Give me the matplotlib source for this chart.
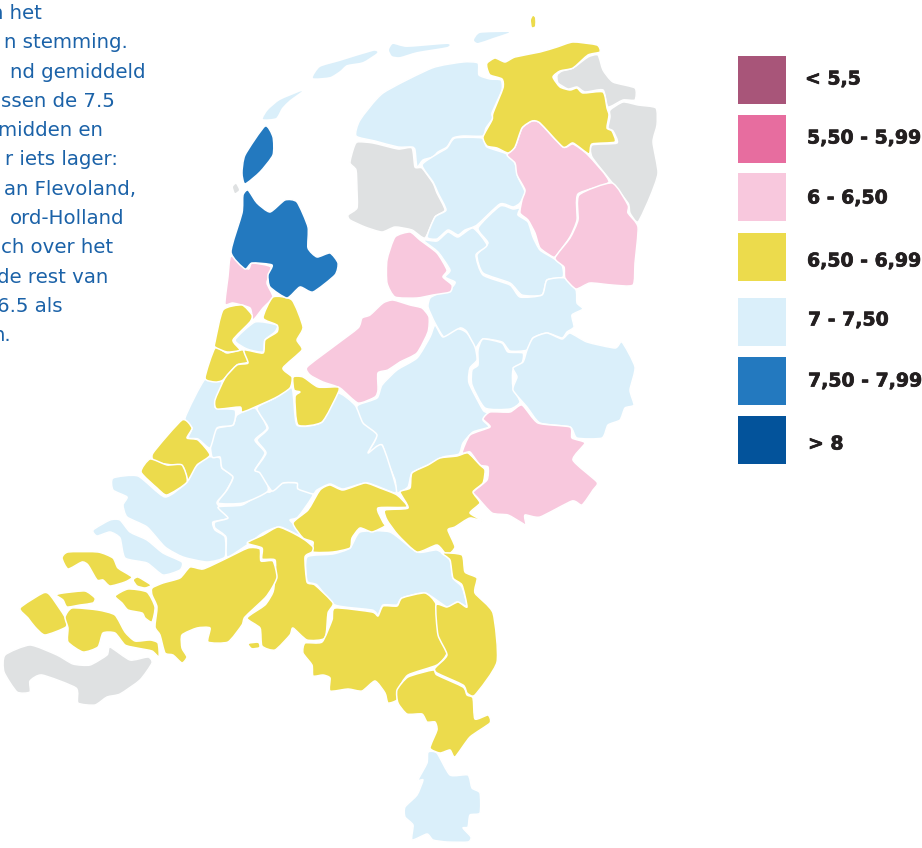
import matplotlib
matplotlib.use('Agg')
from matplotlib import pyplot as plt
from matplotlib.path import Path
from matplotlib.patches import PathPatch, Rectangle
import matplotlib.patheffects as pe

# legend
legend_labels = ['< 5,5', '5,50 - 5,99', '6 - 6,50', '6,50 - 6,99', '7 - 7,50', '7,50 - 7,99', '> 8']
legend_colors = ['#a85579', '#e76d9f', '#f8c8dd', '#ecdb4c', '#daeffa', '#2379bf', '#03539b']
GRAY = '#dfe1e2'

# what is left of the text block, it is cut off by the left edge
intro_lines = ['n het', 'n stemming.', 'nd gemiddeld', 'ssen de 7.5', 'midden en', 'r iets lager:',
               'an Flevoland,', 'ord-Holland', 'ch over het', 'de rest van', '6.5 als', 'n.']

# region outlines
friesland = [(356,136),(360,120),(383,93),(432,68),(463,62),(478,63),(479,75),(490,79),(501,80),(502,90),(492,113),(493,118),(486,128),(483,136),(463,136),(453,138),(447,147),(438,152),(433,157),(423,160),(417,167),(415,150),(412,147),(398,147),(375,141)]
fr_mid = [(422,165),(437,154),(447,148),(455,138),(482,138),(487,147),(507,154),(515,163),(518,177),(525,192),(520,203),(513,207),(500,204),(477,225),(465,230),(458,235),(448,230),(437,239),(427,237),(435,217),(446,210),(438,193),(433,182)]
drenthe_w = [(478,228),(488,243),(477,255),(483,273),(510,283),(522,295),(542,295),(547,280),(563,277),(562,265),(553,258),(540,250),(533,237),(528,222),(518,215),(520,208),(513,209),(500,206)]
overijssel = [(423,240),(437,241),(448,232),(458,237),(473,228),(487,245),(476,255),(483,275),(510,285),(520,297),(542,295),(547,280),(565,278),(576,290),(577,303),(583,309),(572,315),(574,327),(567,332),(562,338),(547,333),(533,338),(527,350),(510,351),(502,342),(483,339),(475,348),(467,332),(460,328),(445,338),(435,323),(428,307),(430,298),(437,294),(452,287),(455,282),(445,277),(450,270),(438,252)]
veluwe = [(358,405),(377,398),(382,385),(397,370),(417,358),(430,337),(435,325),(443,337),(458,329),(467,333),(475,347),(477,360),(470,368),(469,383),(483,410),(488,413),(483,420),(489,427),(473,432),(463,443),(459,454),(443,457),(428,465),(412,473),(408,487),(397,493),(395,480),(388,463),(382,445),(375,453),(368,453),(376,437),(363,425),(357,412)]
ijssel = [(478,350),(483,339),(502,343),(508,352),(523,353),(522,363),(513,370),(513,387),(520,402),(510,409),(485,408),(472,385),(472,370),(478,365)]
twente = [(527,350),(533,338),(547,333),(562,339),(570,333),(587,342),(615,348),(622,342),(635,367),(630,390),(634,405),(625,408),(620,420),(608,425),(602,438),(577,438),(570,427),(540,423),(527,407),(513,390),(517,377),(513,368),(523,362)]
goeree = [(93,530),(110,520),(120,520),(130,532),(147,540),(163,553),(182,562),(180,570),(163,575),(147,563),(125,558),(120,538),(110,532),(97,536)]
rijnmond = [(113,478),(138,476),(165,497),(187,482),(195,467),(208,457),(220,458),(222,468),(233,477),(225,493),(217,503),(228,518),(213,522),(215,530),(225,537),(225,557),(207,562),(183,557),(165,547),(147,527),(127,517),(123,505),(127,497),(113,490)]
waard = [(218,507),(242,505),(263,492),(270,492),(283,483),(297,483),(302,490),(313,495),(298,517),(290,520),(297,527),(303,537),(280,527),(263,533),(247,545),(227,557),(226,537),(215,528),(215,522),(228,518)]
midden_holland = [(212,457),(210,437),(218,428),(233,425),(237,415),(255,408),(267,428),(255,440),(265,453),(255,470),(263,473),(268,491),(243,503),(218,503),(227,490),(233,477),(222,468),(220,457)]
utrecht = [(257,408),(275,398),(292,388),(297,425),(322,422),(337,393),(355,405),(363,423),(377,435),(368,453),(382,445),(395,483),(395,493),(367,483),(343,489),(330,484),(317,490),(313,494),(298,489),(297,483),(283,483),(272,491),(260,473),(255,470),(266,453),(257,440),(268,428)]
delft = [(205,379),(222,382),(215,407),(235,410),(233,425),(217,428),(210,448),(198,439),(188,438),(192,428),(185,418)]
lake = [(235,340),(255,322),(277,325),(275,332),(265,340),(263,352),(247,349)]
kempen = [(307,557),(333,554),(350,548),(360,532),(390,532),(417,552),(437,550),(450,560),(453,578),(462,587),(467,606),(457,602),(447,607),(425,593),(402,598),(397,605),(383,605),(378,615),(372,610),(335,605),(317,585),(307,581)]
zuid_limburg = [(428,752),(437,753),(450,775),(468,775),(472,788),(480,793),(480,813),(470,815),(468,827),(463,828),(471,837),(468,842),(447,842),(433,840),(427,834),(412,840),(413,825),(405,817),(405,807),(417,795),(423,780),(418,780),(427,763)]
vlieland = [(263,119),(268,110),(280,100),(302,91),(290,100),(282,108),(276,118)]
terschelling = [(313,78),(320,67),(340,61),(373,51),(377,53),(363,62),(347,65),(340,71),(330,77)]
ameland = [(389,50),(393,44),(407,47),(447,44),(447,47),(417,52),(400,57),(392,56)]
schier = [(474,40),(480,33),(507,32),(508,33),(493,38),(478,43)]
light_regions = [friesland, fr_mid, drenthe_w, overijssel, veluwe, ijssel, twente, goeree, rijnmond, waard,
                 midden_holland, utrecht, delft, lake, kempen, zuid_limburg]
light_islands = [vlieland, terschelling, ameland, schier]

groningen = [(487,63),(495,58),(505,62),(515,57),(540,52),(557,47),(573,42),(597,45),(600,52),(588,55),(573,68),(560,71),(553,77),(560,87),(570,90),(577,88),(583,93),(603,92),(607,108),(609,115),(607,128),(612,131),(615,142),(592,144),(589,154),(573,143),(563,147),(540,123),(532,121),(522,128),(515,147),(508,153),(497,148),(487,146),(483,137),(492,120),(493,113),(503,88),(502,79),(490,75),(487,68)]
rottum = [(531,20),(533,16),(535,18),(535,26),(532,27)]
arnhem = [(385,510),(408,508),(400,492),(410,488),(412,473),(428,465),(440,458),(457,456),(468,453),(480,465),(485,470),(483,483),(473,492),(480,503),(470,513),(485,522),(470,518),(455,527),(448,530),(455,547),(447,555),(437,545),(417,552),(398,535),(387,520)]
rivieren = [(293,523),(308,510),(320,490),(330,485),(343,490),(365,483),(380,488),(397,495),(407,507),(378,508),(383,522),(385,526),(372,532),(360,528),(352,538),(350,548),(333,552),(313,552),(313,542),(303,538)]
den_bosch = [(247,543),(263,535),(278,527),(293,533),(305,540),(313,547),(312,552),(305,557),(307,582),(315,585),(333,603),(328,613),(325,638),(307,640),(293,628),(290,635),(275,650),(262,646),(260,628),(247,618),(265,605),(273,592),(275,577),(275,560),(262,559),(262,548)]
west_brabant = [(152,588),(163,583),(180,578),(190,567),(203,569),(223,560),(248,548),(260,549),(261,561),(273,561),(277,577),(272,588),(265,598),(245,617),(242,625),(228,642),(208,642),(210,628),(197,628),(182,635),(182,648),(187,657),(182,663),(173,655),(165,653),(160,635),(155,627),(157,607),(152,595)]
dot_brabant = [(249,644),(258,643),(259,647),(252,648)]
schouwen = [(62,558),(68,552),(98,552),(113,558),(118,568),(132,577),(125,582),(110,586),(103,580),(97,580),(88,565),(82,562),(68,569)]
st_phil = [(133,580),(138,577),(151,585),(145,588),(137,586)]
walcheren = [(20,608),(43,593),(50,595),(65,617),(66,627),(45,635),(35,627),(28,618)]
nbeveland = [(56,595),(63,593),(85,591),(95,598),(93,603),(80,605),(67,607),(63,600)]
tholen = [(115,596),(128,589),(147,592),(155,607),(152,622),(145,618),(142,613),(128,610),(122,603)]
zbeveland = [(65,617),(72,608),(98,610),(115,615),(125,632),(135,641),(150,640),(158,643),(159,657),(152,651),(137,648),(125,645),(115,633),(103,633),(98,647),(83,652),(68,642),(68,628)]
zeist = [(293,377),(303,377),(318,387),(338,387),(338,393),(322,422),(298,425),(295,397),(300,392),(294,390)]
haaglanden = [(153,453),(182,420),(192,428),(187,438),(198,440),(210,455),(197,465),(188,480),(183,467),(172,465),(155,462)]
westland = [(141,472),(150,459),(167,465),(182,465),(187,482),(167,495),(157,488)]
leiden = [(205,378),(215,348),(227,353),(243,350),(248,362),(237,365),(223,380),(215,382)]
kennemer = [(215,342),(223,310),(242,305),(252,315),(250,322),(233,340),(240,350),(227,352),(215,347)]
amsterdam = [(263,318),(273,297),(292,300),(303,327),(297,340),(302,350),(283,368),(292,377),(290,388),(275,398),(243,412),(240,407),(217,409),(215,400),(225,378),(237,365),(248,363),(244,350),(263,353),(265,340),(277,332),(277,325)]
eindhoven = [(335,608),(372,612),(378,616),(383,606),(397,606),(402,598),(425,593),(436,604),(440,635),(447,653),(437,665),(408,675),(398,690),(397,700),(388,703),(385,693),(375,681),(362,691),(348,689),(330,691),(330,678),(323,675),(313,676),(312,665),(303,653),(305,643),(322,642),(332,620)]
peel = [(442,553),(462,555),(465,572),(477,578),(475,593),(493,613),(497,662),(475,695),(467,693),(463,685),(437,673),(435,668),(447,655),(438,635),(436,605),(447,607),(458,602),(467,607),(462,585),(453,578),(450,560)]
limburg = [(398,703),(397,690),(408,677),(433,670),(437,675),(463,687),(467,695),(473,698),(475,719),(488,715),(490,723),(470,737),(455,757),(450,750),(440,753),(430,748),(437,730),(435,722),(427,722),(422,714),(407,714)]
yellow_regions = [groningen, arnhem, rivieren, den_bosch, west_brabant, schouwen, st_phil, walcheren,
                  nbeveland, tholen, zbeveland, zeist, haaglanden, westland, leiden, kennemer, amsterdam, eindhoven, peel, limburg]
yellow_islands = [rottum, dot_brabant]

drenthe_pink = [(507,155),(515,147),(522,128),(532,121),(540,123),(563,147),(573,144),(588,155),(609,182),(578,194),(577,220),(570,237),(557,255),(553,257),(540,248),(535,233),(528,220),(520,213),(522,200),(525,190),(517,175),(515,163)]
drenthe_se = [(579,195),(612,183),(628,205),(628,213),(638,227),(635,263),(633,285),(612,285),(590,283),(576,289),(565,278),(564,267),(555,258),(570,238),(578,220)]
noordoostpolder = [(387,260),(395,237),(410,232),(420,240),(437,253),(447,270),(443,277),(452,285),(450,292),(433,295),(417,298),(395,297),(387,283)]
flevoland = [(307,367),(333,347),(358,328),(362,318),(370,315),(383,303),(393,300),(410,305),(422,308),(429,317),(428,332),(417,353),(400,362),(388,370),(378,373),(378,390),(375,397),(358,403),(340,388),(323,382),(310,375)]
achterhoek = [(462,453),(470,435),(490,427),(483,419),(490,412),(510,412),(522,405),(538,423),(570,427),(572,438),(585,443),(573,460),(597,482),(593,490),(582,505),(572,501),(540,517),(525,515),(526,525),(522,523),(508,515),(492,513),(477,497),(473,492),(487,480),(488,467),(480,465),(470,452)]
ijmond = [(231,256),(248,269),(252,263),(271,267),(267,283),(273,297),(263,308),(253,320),(250,308),(233,303),(225,304),(228,277)]
pink_regions = [drenthe_pink, drenthe_se, noordoostpolder, flevoland, achterhoek, ijmond]

noord_holland = [(231,252),(242,213),(243,195),(248,190),(257,203),(270,212),(285,200),(297,202),(308,227),(308,248),(317,257),(330,253),(338,263),(335,275),(313,292),(300,287),(287,298),(270,287),(268,275),(272,265),(252,263),(245,269)]
texel = [(265,126),(273,137),(273,155),(260,172),(245,184),(242,173),(245,155)]
blue_regions = [noord_holland, texel]

oost_groningen = [(557,75),(562,71),(573,68),(588,57),(598,55),(603,70),(613,82),(635,88),(635,100),(623,100),(608,107),(603,90),(585,92),(577,87),(568,89),(558,83)]
westerwolde = [(610,110),(623,102),(638,105),(656,108),(657,125),(653,142),(658,173),(650,197),(638,222),(630,213),(628,203),(610,180),(592,157),(592,145),(617,143),(613,131),(608,128),(610,117)]
zuidwest_fr = [(357,142),(373,143),(398,149),(412,148),(415,167),(422,168),(433,183),(437,193),(445,210),(435,217),(425,238),(412,230),(395,227),(382,232),(365,227),(350,220),(348,215),(357,208),(357,190),(356,170),(350,163),(353,150)]
zvl = [(5,655),(30,645),(57,655),(73,664),(90,665),(107,655),(110,647),(130,660),(148,657),(152,663),(140,680),(120,694),(107,697),(95,705),(78,703),(76,688),(42,675),(30,681),(30,692),(17,692),(4,672)]
dot_gray = [(233,187),(236,184),(239,190),(235,193)]
gray_regions = [oost_groningen, westerwolde, zuidwest_fr, zvl]


def smooth_path(pts, k=0.10):
    # closed bezier through the traced points so the borders are not angular
    n = len(pts)
    verts = [pts[0]]
    codes = [Path.MOVETO]
    for i in range(n):
        p0, p1, p2, p3 = pts[i-1], pts[i], pts[(i+1) % n], pts[(i+2) % n]
        verts.append((p1[0]+k*(p2[0]-p0[0]), p1[1]+k*(p2[1]-p0[1])))
        verts.append((p2[0]-k*(p3[0]-p1[0]), p2[1]-k*(p3[1]-p1[1])))
        verts.append(p2)
        codes += [Path.CURVE4]*3
    return Path(verts, codes)


fig = plt.figure(figsize=(9.22, 8.48), dpi=100)
ax = fig.add_axes([0, 0, 1, 1])
ax.set_xlim(0, 922)
ax.set_ylim(848, 0)
ax.axis('off')

for regions, color in [(gray_regions, GRAY), (light_regions, legend_colors[4]), (pink_regions, legend_colors[2]),
                       (yellow_regions, legend_colors[3]), (blue_regions, legend_colors[5])]:
    for outline in regions:
        ax.add_patch(PathPatch(smooth_path(outline), facecolor=color, edgecolor='white', lw=1.1, joinstyle='round'))

# the small islands would vanish under a white edge
for regions, color in [([dot_gray], GRAY), (light_islands, legend_colors[4]), (yellow_islands, legend_colors[3])]:
    for outline in regions:
        ax.add_patch(PathPatch(smooth_path(outline), facecolor=color, edgecolor='none'))

# legend boxes and labels
box_tops = [56, 115, 173, 233, 298, 357, 416]
label_x = [805, 807, 807, 807, 808, 808, 808]
label_y = [79, 138, 198, 261, 320, 381, 444]
for top, color, lab, lx, ly in zip(box_tops, legend_colors, legend_labels, label_x, label_y):
    ax.add_patch(Rectangle((738, top), 48, 48, facecolor=color, edgecolor='none'))
    ax.text(lx, ly, lab, fontsize=13.6, fontweight='bold', family='DejaVu Sans', color='#231f20', va='center', ha='left',
            path_effects=[pe.withStroke(linewidth=0.5, foreground='#231f20')])

# text block, right aligned because the left side falls off the picture
line_right = [42, 128, 145, 115, 103, 118, 136, 124, 113, 108, 63, 11]
line_base = [19, 48, 78, 107, 136, 165, 195, 224, 253, 283, 312, 341]
for s, r, b in zip(intro_lines, line_right, line_base):
    ax.text(r, b, s, fontsize=14.2, family='DejaVu Sans', color='#1b62a8', ha='right', va='baseline')

plt.savefig('out.png', dpi=100)
